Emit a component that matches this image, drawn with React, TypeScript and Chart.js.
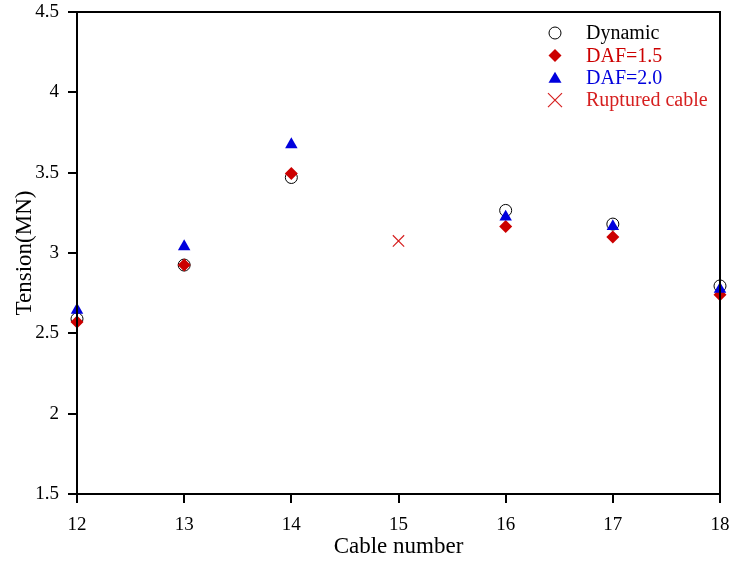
import React, { useEffect, useRef } from "react";
import { Chart, registerables } from "chart.js";

Chart.register(...registerables);

const cables = [12, 13, 14, 16, 17, 18];
const dynamic = [2.59, 2.925, 3.47, 3.265, 3.18, 2.795];
const daf15 = [2.57, 2.925, 3.495, 3.165, 3.1, 2.74];
const daf20 = [2.645, 3.04, 3.675, 3.225, 3.165, 2.775];
const rupturedX = [15];
const rupturedY = [3.075];
const yTicks = [1.5, 2, 2.5, 3, 3.5, 4, 4.5];
const xTicks = [12, 13, 14, 15, 16, 17, 18];

const RED = "#cc0000";
const BLUE = "#0000dd";
const FONT = "'Liberation Serif', 'Times New Roman', serif";

const legendItems = [
  { label: "Dynamic", color: "#000000", style: "circle" },
  { label: "DAF=1.5", color: RED, style: "rectRot" },
  { label: "DAF=2.0", color: BLUE, style: "triangle" },
  { label: "Ruptured cable", color: "#d62020", style: "crossRot" },
];

const framePlugin = {
  id: "frameLegend",
  afterDraw(chart: any) {
    const { ctx, chartArea } = chart;
    ctx.save();
    ctx.strokeStyle = "#000";
    ctx.lineWidth = 2;
    ctx.strokeRect(chartArea.left, chartArea.top, chartArea.right - chartArea.left, chartArea.bottom - chartArea.top);
    // legend
    const mx = chartArea.right - 165;
    const tx = chartArea.right - 134;
    let y = chartArea.top + 21;
    ctx.font = `20px ${FONT}`;
    ctx.textBaseline = "middle";
    ctx.textAlign = "left";
    for (const it of legendItems) {
      ctx.beginPath();
      if (it.style === "circle") {
        ctx.lineWidth = 1;
        ctx.strokeStyle = "#000";
        ctx.arc(mx, y, 6, 0, Math.PI * 2);
        ctx.stroke();
      } else if (it.style === "rectRot") {
        ctx.fillStyle = it.color;
        ctx.moveTo(mx, y - 6.5);
        ctx.lineTo(mx + 6.5, y);
        ctx.lineTo(mx, y + 6.5);
        ctx.lineTo(mx - 6.5, y);
        ctx.closePath();
        ctx.fill();
      } else if (it.style === "triangle") {
        ctx.fillStyle = it.color;
        ctx.moveTo(mx, y - 6);
        ctx.lineTo(mx + 6.5, y + 5);
        ctx.lineTo(mx - 6.5, y + 5);
        ctx.closePath();
        ctx.fill();
      } else {
        ctx.strokeStyle = it.color;
        ctx.lineWidth = 1.2;
        ctx.moveTo(mx - 7, y - 7);
        ctx.lineTo(mx + 7, y + 7);
        ctx.moveTo(mx + 7, y - 7);
        ctx.lineTo(mx - 7, y + 7);
        ctx.stroke();
      }
      ctx.fillStyle = it.color;
      ctx.fillText(it.label, tx, y + 1);
      y += 22.4;
    }
    ctx.restore();
  },
};

const noPad = (s: any) => {
  s.paddingTop = 0;
  s.paddingBottom = 0;
  s.paddingLeft = 0;
  s.paddingRight = 0;
};

export default function App() {
  const ref = useRef<HTMLCanvasElement>(null);
  useEffect(() => {
    const toPts = (xs: number[], ys: number[]) => xs.map((x, i) => ({ x, y: ys[i] }));
    const chart = new Chart(ref.current!, {
      type: "scatter",
      data: {
        datasets: [
          {
            label: "Dynamic",
            data: toPts(cables, dynamic),
            pointStyle: "circle",
            pointRadius: 6,
            borderColor: "#000",
            borderWidth: 1,
            backgroundColor: "rgba(0,0,0,0)",
            order: 4,
            clip: false,
          },
          {
            label: "DAF=1.5",
            data: toPts(cables, daf15),
            pointStyle: "rectRot",
            pointRadius: 6.5,
            borderColor: RED,
            borderWidth: 0,
            backgroundColor: RED,
            order: 3,
            clip: false,
          },
          {
            label: "DAF=2.0",
            data: toPts(cables, daf20),
            pointStyle: "triangle",
            pointRadius: 7.2,
            borderColor: BLUE,
            borderWidth: 0,
            backgroundColor: BLUE,
            order: 2,
            clip: false,
          },
          {
            label: "Ruptured cable",
            data: toPts(rupturedX, rupturedY),
            pointStyle: "crossRot",
            pointRadius: 8,
            borderColor: "#d62020",
            borderWidth: 1.2,
            backgroundColor: "#d62020",
            order: 1,
            clip: false,
          },
        ],
      },
      options: {
        animation: false,
        responsive: false,
        maintainAspectRatio: false,
        layout: { padding: { top: 12, right: 14, left: 0, bottom: 0 } },
        plugins: { legend: { display: false }, tooltip: { enabled: false } },
        scales: {
          x: {
            type: "linear",
            min: 12,
            max: 18,
            afterFit: (s: any) => {
              s.height = 70;
              noPad(s);
            },
            afterBuildTicks: (s: any) => {
              s.ticks = xTicks.map((v) => ({ value: v }));
            },
            ticks: {
              color: "#000",
              font: { family: FONT, size: 19 },
              padding: 11,
              callback: (v: any) => String(v),
            },
            grid: { drawOnChartArea: false, color: "#000", lineWidth: 2, tickLength: 9 },
            border: { color: "#000", width: 2 },
            title: {
              display: true,
              text: "Cable number",
              color: "#000",
              font: { family: FONT, size: 23 },
              padding: { top: 0, bottom: 3 },
            },
          },
          y: {
            type: "linear",
            min: 1.5,
            max: 4.5,
            afterFit: (s: any) => {
              s.width = 77;
              noPad(s);
            },
            afterBuildTicks: (s: any) => {
              s.ticks = yTicks.map((v) => ({ value: v }));
            },
            ticks: {
              color: "#000",
              font: { family: FONT, size: 19 },
              padding: 9,
              callback: (v: any) => String(v),
            },
            grid: { drawOnChartArea: false, color: "#000", lineWidth: 2, tickLength: 9 },
            border: { color: "#000", width: 2 },
            title: {
              display: true,
              text: "Tension(MN)",
              color: "#000",
              font: { family: FONT, size: 23 },
              padding: { top: 11, bottom: 0 },
            },
          },
        },
      },
      plugins: [framePlugin],
    });
    return () => chart.destroy();
  }, []);
  return (
    <div style={{ position: "fixed", left: 0, top: 0, width: 734, height: 564, background: "#fff" }}>
      <canvas ref={ref} width={734} height={564} style={{ width: 734, height: 564 }} />
    </div>
  );
}
